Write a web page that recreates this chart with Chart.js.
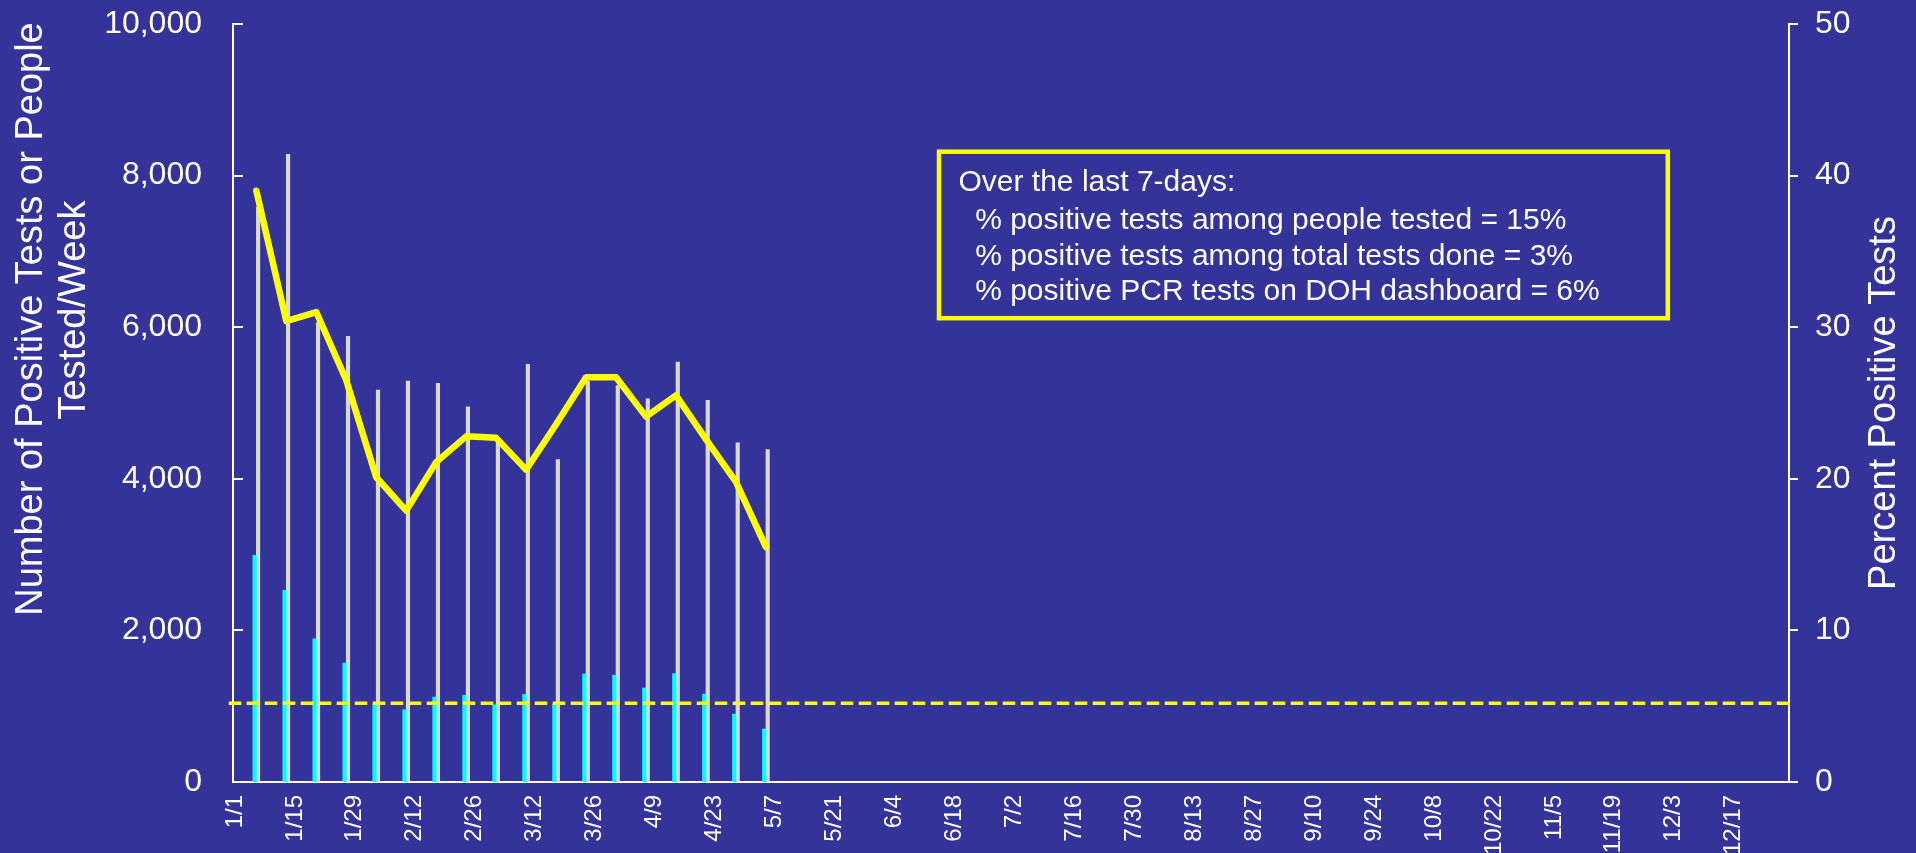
<!DOCTYPE html>
<html>
<head>
<meta charset="utf-8">
<title>Positive tests per week</title>
<script src="https://cdn.jsdelivr.net/npm/chart.js@4.4.1/dist/chart.umd.min.js"></script>
<style>
  html, body { margin: 0; padding: 0; background: #333399; overflow: hidden; }
  #wrap { position: relative; width: 1916px; height: 853px; }
</style>
</head>
<body>
<div id="wrap"><canvas id="testsChart"></canvas></div>
<script>
// weeks shown (2021), one bar pair + one line point per week
const weekDates = ['1/6', '1/13', '1/20', '1/27', '2/3', '2/10', '2/17', '2/24', '3/3',
    '3/10', '3/17', '3/24', '3/31', '4/7', '4/14', '4/21', '4/28', '5/5'];
const peopleTested = [7580, 8280, 6060, 5880, 5170, 5290, 5260, 4950, 4500,
    5510, 4255, 5290, 5230, 5055, 5540, 5035, 4475, 4385];
const positiveTests = [2990, 2530, 1890, 1570, 1020, 955, 1120, 1145, 1020,
    1155, 1030, 1425, 1410, 1240, 1430, 1160, 895, 700];
const percentPositive = [39.0, 30.4, 31.0, 26.5, 20.1, 17.9, 21.1, 22.8, 22.7,
    20.6, 23.6, 26.7, 26.7, 24.1, 25.5, 22.6, 19.8, 15.5];
const thresholdPct = 5.2;

const xTickLabels = ['1/1', '1/15', '1/29', '2/12', '2/26', '3/12', '3/26', '4/9', '4/23',
    '5/7', '5/21', '6/4', '6/18', '7/2', '7/16', '7/30', '8/13', '8/27', '9/10', '9/24',
    '10/8', '10/22', '11/5', '11/19', '12/3', '12/17'];
const leftTicks = [0, 2000, 4000, 6000, 8000, 10000];
const rightTicks = [0, 10, 20, 30, 40, 50];

const noteLines = [
    'Over the last 7-days:',
    '  % positive tests among people tested = 15%',
    '  % positive tests among total tests done = 3%',
    '  % positive PCR tests on DOH dashboard = 6%'
];

const FONT = "'Liberation Sans', Arial, sans-serif";
const WHITE = '#ffffff';
const YELLOW = '#ffff00';

// date axis: day 0 = 1/1, runs to the end of the year
const X_MIN = -0.45;
const X_MAX = 362.9;

const monthStarts = [0, 31, 59, 90, 120, 151, 181, 212, 243, 273, 304, 334];
function dayOf(md) {
    const [m, d] = md.split('/').map(Number);
    return monthStarts[m - 1] + d - 1;
}

const weekX = weekDates.map(dayOf);
const toPoints = vals => vals.map((v, i) => ({ x: weekX[i], y: v }));

const overlay = {
    id: 'overlay',
    afterDraw(chart) {
        const { ctx, chartArea, scales } = chart;
        ctx.save();

        // left axis tick marks point into the plot
        ctx.strokeStyle = WHITE;
        ctx.lineWidth = 2;
        leftTicks.forEach(v => {
            const y = Math.round(scales.y.getPixelForValue(v));
            ctx.beginPath();
            ctx.moveTo(chartArea.left, y);
            ctx.lineTo(chartArea.left + 10, y);
            ctx.stroke();
        });

        // axis titles, both read bottom to top
        ctx.fillStyle = WHITE;
        ctx.font = '38px ' + FONT;
        ctx.textAlign = 'center';
        ctx.textBaseline = 'alphabetic';
        const vText = (txt, baseX, cy) => {
            ctx.save();
            ctx.translate(baseX, cy);
            ctx.rotate(-Math.PI / 2);
            ctx.fillText(txt, 0, 0);
            ctx.restore();
        };
        vText('Number of Positive Tests or People', 42, 319);
        vText('Tested/Week', 85, 310);
        vText('Percent Positive Tests', 1895, (chartArea.top + chartArea.bottom) / 2);

        // note box
        ctx.strokeStyle = YELLOW;
        ctx.lineWidth = 4.5;
        ctx.strokeRect(939, 151.7, 728.8, 166.5);
        ctx.fillStyle = WHITE;
        ctx.font = '30px ' + FONT;
        ctx.textAlign = 'left';
        const baselines = [191, 229, 264.5, 300];
        noteLines.forEach((t, i) => ctx.fillText(t, 958.5, baselines[i]));

        ctx.restore();
    }
};

new Chart(document.getElementById('testsChart'), {
    type: 'bar',
    data: {
        datasets: [
            {
                type: 'line',
                label: 'Percent positive',
                data: toPoints(percentPositive),
                yAxisID: 'y1',
                borderColor: YELLOW,
                borderWidth: 6.5,
                borderCapStyle: 'round',
                borderJoinStyle: 'round',
                pointRadius: 0,
                tension: 0,
                order: 0
            },
            {
                type: 'line',
                label: 'Threshold',
                data: [{ x: X_MIN - 1, y: thresholdPct }, { x: X_MAX, y: thresholdPct }],
                yAxisID: 'y1',
                borderColor: YELLOW,
                borderWidth: 3.5,
                borderDash: [12.5, 5.5],
                pointRadius: 0,
                clip: false,
                order: 1
            },
            {
                label: 'Positive tests',
                data: toPoints(positiveTests),
                yAxisID: 'y',
                backgroundColor: '#00ffff',
                barThickness: 3.5,
                order: 2
            },
            {
                label: 'People tested',
                data: toPoints(peopleTested),
                yAxisID: 'y',
                backgroundColor: '#d9d9d9',
                barThickness: 3.5,
                order: 3
            }
        ]
    },
    options: {
        responsive: true,
        maintainAspectRatio: false,
        animation: false,
        layout: { padding: { top: 24, left: 0, right: 0, bottom: 0 } },
        plugins: { legend: { display: false }, tooltip: { enabled: false } },
        scales: {
            x: {
                type: 'linear',
                min: X_MIN,
                max: X_MAX,
                offset: false,
                grid: { display: false, drawTicks: false, offset: false },
                border: { display: true, color: WHITE, width: 2 },
                afterBuildTicks: scale => {
                    scale.ticks = xTickLabels.map(l => ({ value: dayOf(l) }));
                },
                afterFit: scale => {
                    scale.height = 71;
                    scale.paddingLeft = 0;
                    scale.paddingRight = 0;
                },
                ticks: {
                    autoSkip: false,
                    minRotation: 90,
                    maxRotation: 90,
                    padding: 13,
                    color: WHITE,
                    font: { family: FONT, size: 24 },
                    callback: (v, i) => xTickLabels[i]
                }
            },
            y: {
                position: 'left',
                min: 0,
                max: 10000,
                grid: { display: false, drawTicks: false },
                border: { display: true, color: WHITE, width: 2 },
                afterBuildTicks: scale => {
                    scale.ticks = leftTicks.map(v => ({ value: v }));
                },
                afterFit: scale => {
                    scale.width = 233;
                    scale.paddingTop = 0;
                    scale.paddingBottom = 0;
                },
                ticks: {
                    padding: 31,
                    color: WHITE,
                    font: { family: FONT, size: 32 },
                    callback: v => v.toLocaleString('en-US')
                }
            },
            y1: {
                position: 'right',
                min: 0,
                max: 50,
                grid: { display: true, drawOnChartArea: false, drawTicks: true, tickLength: 9, color: WHITE, lineWidth: 2 },
                border: { display: true, color: WHITE, width: 2 },
                afterBuildTicks: scale => {
                    scale.ticks = rightTicks.map(v => ({ value: v }));
                },
                afterFit: scale => {
                    scale.width = 127;
                    scale.paddingTop = 0;
                    scale.paddingBottom = 0;
                },
                ticks: {
                    padding: 17,
                    color: WHITE,
                    font: { family: FONT, size: 32 }
                }
            }
        }
    },
    plugins: [overlay]
});
</script>
</body>
</html>
